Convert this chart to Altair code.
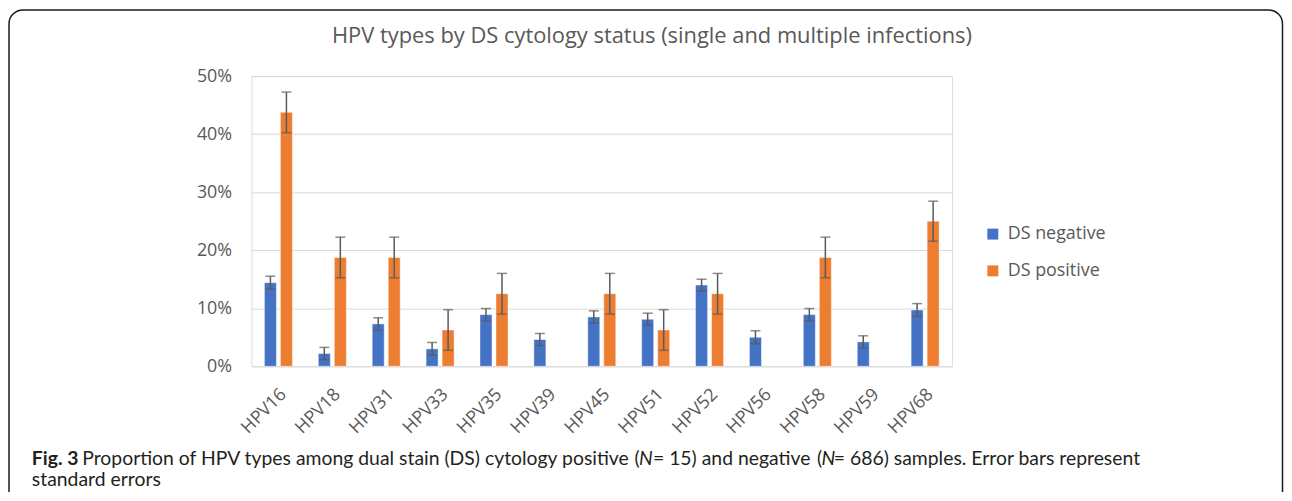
import altair as alt
import pandas as pd

# ---- data ----
types = ["HPV16", "HPV18", "HPV31", "HPV33", "HPV35", "HPV39", "HPV45",
         "HPV51", "HPV52", "HPV56", "HPV58", "HPV59", "HPV68"]
series = ["DS negative", "DS positive"]
neg_vals = [14.4, 2.2, 7.3, 3.0, 8.9, 4.6, 8.5, 8.1, 14.0, 5.0, 8.9, 4.2, 9.7]
neg_err = [1.1, 1.05, 1.05, 1.1, 1.05, 1.05, 1.05, 1.05, 1.0, 1.1, 1.05, 1.05, 1.1]
pos_vals = [43.75, 18.75, 18.75, 6.25, 12.5, None, 12.5, 6.25, 12.5, None, 18.75, None, 25.0]
pos_err = [3.5, 3.5, 3.5, 3.5, 3.5, None, 3.5, 3.5, 3.5, None, 3.5, None, 3.45]
y_ticks = [0, 10, 20, 30, 40, 50]
colors = ["#4472C4", "#ED7D31"]

title_text = "HPV types by DS cytology status (single and multiple infections)"
cap_bold = "Fig. 3"
cap_a = "Proportion of HPV types among dual stain (DS) cytology positive"
cap_paren = "("
cap_n = "N"
cap_b = "= 15) and negative"
cap_c = "= 686) samples. Error bars represent"
cap_line2 = "standard errors"

rows = []
for i, t in enumerate(types):
    for s, vals, errs in ((series[0], neg_vals, neg_err), (series[1], pos_vals, pos_err)):
        v = vals[i]
        if v is None:
            continue
        rows.append({"type": t, "series": s, "value": v,
                     "lo": v - errs[i], "hi": v + errs[i]})
df = pd.DataFrame(rows)

FONT = "Open Sans"
GREY = "#595959"
CAP_FONT = "Lato"
CAP_SIZE = 19.5
CAP_COLOR = "#231f20"

x_enc = alt.X("type:N", sort=types,
              scale=alt.Scale(paddingInner=0.48, paddingOuter=0.24),
              axis=alt.Axis(title=None, labelAngle=-45, labelAlign="right",
                            labelBaseline="top", labelPadding=19, labelOffset=-1,
                            labelFontSize=18, labelColor=GREY, labelFont=FONT,
                            ticks=False, domain=False, grid=False,
                            labelOverlap=False, labelBound=False))
xo_enc = alt.XOffset("series:N", scale=alt.Scale(domain=series, paddingInner=0.25,
                                                  paddingOuter=0))

base = alt.Chart(df).encode(x=x_enc, xOffset=xo_enc)

bars = base.mark_bar(stroke="white", strokeOpacity=0.45, strokeWidth=1).encode(
    y=alt.Y("value:Q", scale=alt.Scale(domain=[0, 50]),
            axis=alt.Axis(title=None, values=y_ticks, labelExpr="datum.value + '%'",
                          labelFontSize=18, labelColor=GREY, labelFont=FONT,
                          labelPadding=20, ticks=False, domain=False,
                          gridColor="#D9D9D9", gridWidth=1)),
    color=alt.Color("series:N", scale=alt.Scale(domain=series, range=colors),
                    legend=alt.Legend(title=None, orient="none", legendX=737, legendY=150,
                                      symbolType="square", symbolSize=121,
                                      symbolStrokeWidth=0, labelFontSize=18,
                                      labelFont=FONT, labelColor=GREY, labelOffset=6,
                                      rowPadding=19, padding=0)),
)

ERR = "#5A5A5A"
rules = base.mark_rule(color=ERR, strokeWidth=1.5).encode(
    y=alt.Y("lo:Q"), y2="hi:Q")
cap_lo = base.mark_tick(color=ERR, thickness=1.5, size=10).encode(y=alt.Y("lo:Q"))
cap_hi = base.mark_tick(color=ERR, thickness=1.5, size=10).encode(y=alt.Y("hi:Q"))

one = pd.DataFrame({"a": [0]})
border = alt.Chart(one).mark_rect(fillOpacity=0, stroke="#1a1a1a", strokeWidth=1.5,
                                  cornerRadius=14).encode(
    x=alt.value(-244), x2=alt.value(1037.5), y=alt.value(-66.5), y2=alt.value(520))


def txt(s, x, y, size, font, color, weight="normal", style="normal", align="left"):
    return alt.Chart(pd.DataFrame({"t": [s]})).mark_text(
        align=align, baseline="alphabetic", font=font, fontSize=size,
        fontWeight=weight, fontStyle=style, color=color).encode(
        x=alt.value(x), y=alt.value(y), text="t:N")


title = txt(title_text, 403, -33, 22, FONT, GREY, align="center")
L1, L2 = 391, 412
caption = [
    txt(cap_bold, -221, L1, CAP_SIZE, CAP_FONT, CAP_COLOR, weight="bold"),
    txt(cap_a, -170.3, L1, CAP_SIZE, CAP_FONT, CAP_COLOR),
    txt(cap_paren, 385.5, L1, CAP_SIZE, CAP_FONT, CAP_COLOR),
    txt(cap_n, 390, L1, CAP_SIZE, CAP_FONT, CAP_COLOR, style="italic"),
    txt(cap_b, 404, L1, CAP_SIZE, CAP_FONT, CAP_COLOR),
    txt(cap_paren, 569, L1, CAP_SIZE, CAP_FONT, CAP_COLOR),
    txt(cap_n, 573.5, L1, CAP_SIZE, CAP_FONT, CAP_COLOR, style="italic"),
    txt(cap_c, 586, L1, CAP_SIZE, CAP_FONT, CAP_COLOR),
    txt(cap_line2, -221, L2, CAP_SIZE, CAP_FONT, CAP_COLOR),
]

chart = alt.layer(border, bars, rules, cap_lo, cap_hi, title, *caption).properties(
    width=705, height=292,
    autosize=alt.AutoSizeParams(type="none"),
    padding={"left": 245, "top": 67, "right": 334, "bottom": 125},
).configure_view(stroke=None).configure(background="white")

chart.save("out.html", embed_options={"renderer": "svg", "actions": False})
